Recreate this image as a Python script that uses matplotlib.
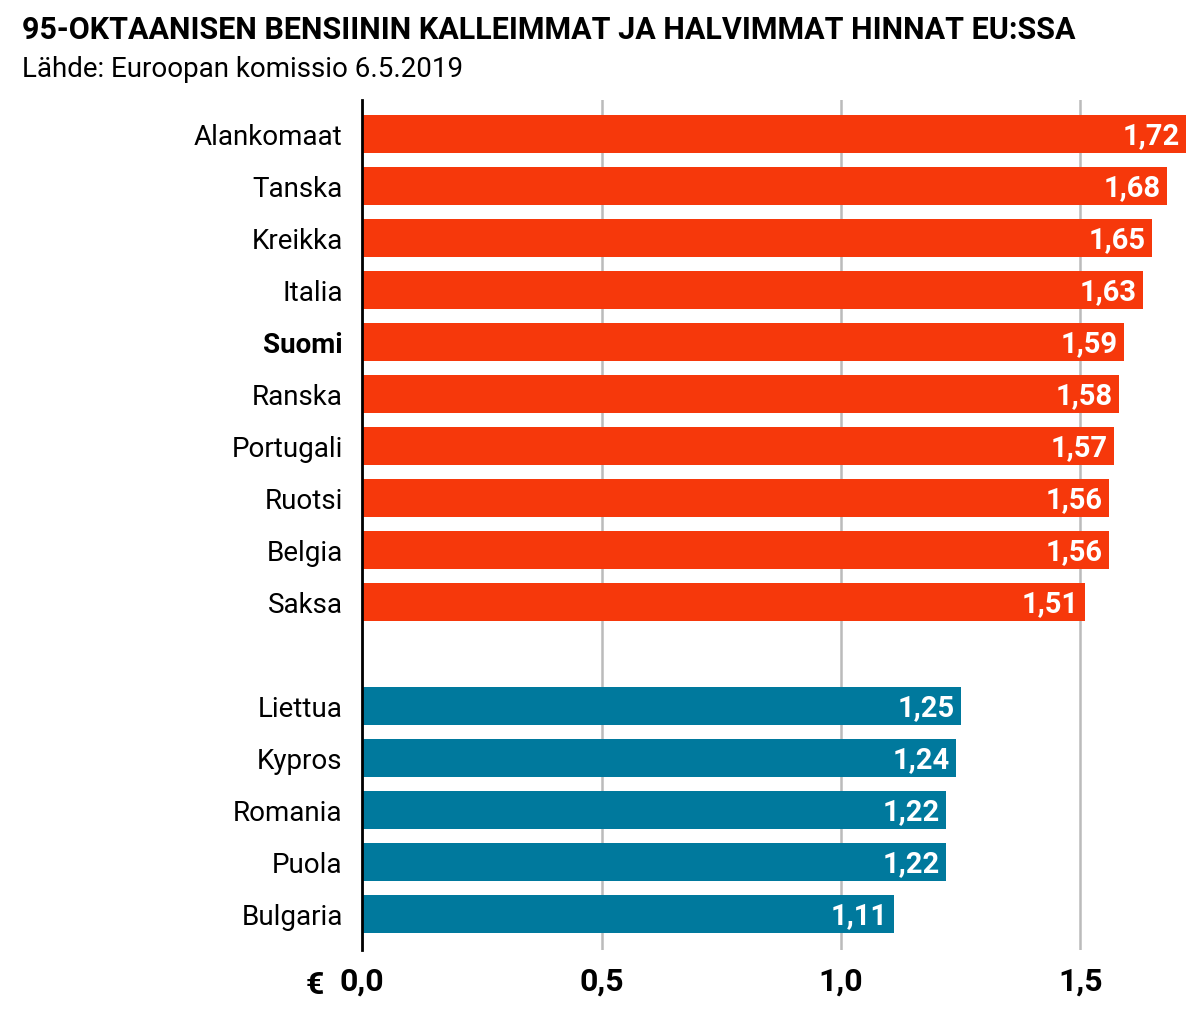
import matplotlib
matplotlib.use("Agg")
import matplotlib.pyplot as plt
from matplotlib import font_manager as fm

names = {f.name for f in fm.fontManager.ttflist}
FONT = "Liberation Sans Narrow" if "Liberation Sans Narrow" in names else "Roboto"
plt.rcParams["font.family"] = FONT

countries_high = ["Alankomaat", "Tanska", "Kreikka", "Italia", "Suomi", "Ranska",
                  "Portugali", "Ruotsi", "Belgia", "Saksa"]
prices_high = [1.72, 1.68, 1.65, 1.63, 1.59, 1.58, 1.57, 1.56, 1.56, 1.51]
countries_low = ["Liettua", "Kypros", "Romania", "Puola", "Bulgaria"]
prices_low = [1.25, 1.24, 1.22, 1.22, 1.11]
xticks = [0.0, 0.5, 1.0, 1.5]
xtick_labels = ["0,0", "0,5", "1,0", "1,5"]

RED = "#f6380b"
BLUE = "#00799d"

fig = plt.figure(figsize=(11.99, 10.23), dpi=100)
ax = fig.add_axes([0.302, 0.071, 0.687, 0.831])

pos_high = list(range(len(countries_high)))
pos_low = [len(countries_high) + 1 + i for i in range(len(countries_low))]

for pos, vals, col in [(pos_high, prices_high, RED), (pos_low, prices_low, BLUE)]:
    ax.barh(pos, vals, height=0.73, color=col, zorder=2)
    for p, v in zip(pos, vals):
        ax.text(v - 0.013, p + 0.04, f"{v:.2f}".replace(".", ","), ha="right", va="center",
                color="white", fontsize=21, fontweight="bold", zorder=3)

ax.set_xlim(0, 1.72)
ax.set_ylim(15.69, -0.654)
ax.set_yticks(pos_high + pos_low)
ax.set_yticklabels(countries_high + countries_low, fontsize=20)
for lbl in ax.get_yticklabels():
    if lbl.get_text() == "Suomi":
        lbl.set_fontweight("bold")
ax.set_xticks(xticks)
ax.set_xticklabels(xtick_labels, fontsize=23, fontweight="bold")
ax.tick_params(length=0)
ax.tick_params(axis="y", pad=14)
ax.tick_params(axis="x", pad=12)
ax.grid(axis="x", color="#bbbbbb", linewidth=1.8, zorder=0)
for s in ["top", "right", "bottom"]:
    ax.spines[s].set_visible(False)
ax.spines["left"].set_linewidth(2)
ax.spines["left"].set_zorder(4)

fig.text(315 / 1199, 1 - 985 / 1023, "€", fontsize=23, fontweight="bold", ha="center", va="center")
fig.text(22 / 1199, 1 - 30 / 1023, "95-OKTAANISEN BENSIININ KALLEIMMAT JA HALVIMMAT HINNAT EU:SSA",
         fontsize=22, fontweight="bold", va="center")
fig.text(22 / 1199, 1 - 70 / 1023, "Lähde: Euroopan komissio 6.5.2019", fontsize=20, va="center")

fig.savefig("out.png", dpi=100)
